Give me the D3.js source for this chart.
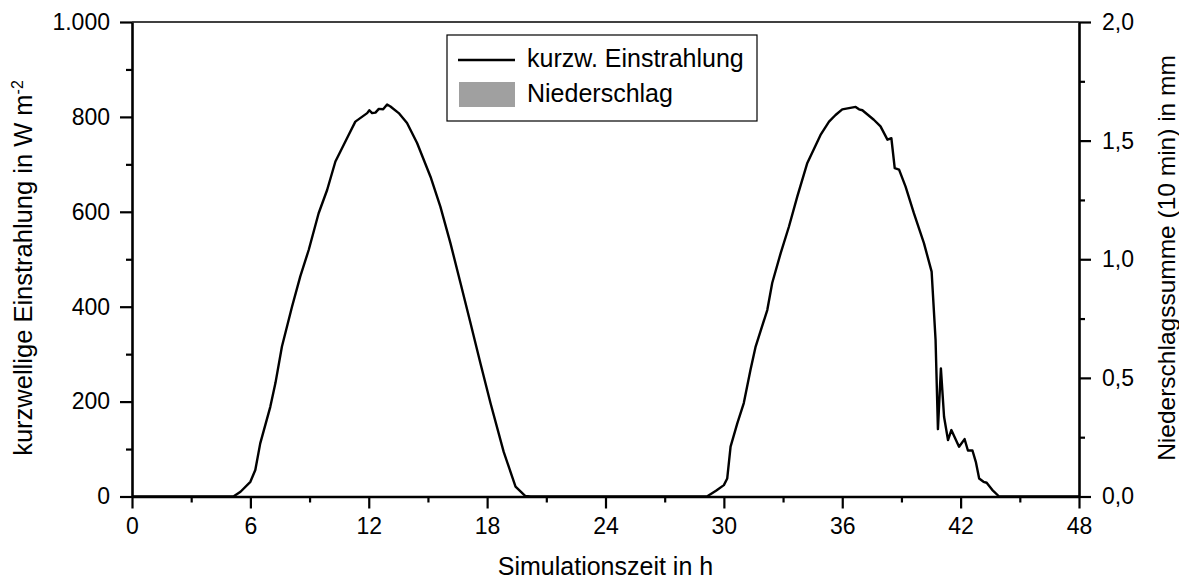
<!DOCTYPE html>
<html><head><meta charset="utf-8">
<script src="https://d3js.org/d3.v7.min.js"></script>
<style>
body{margin:0;background:#fff}
svg text{font-family:"Liberation Sans",Arial,sans-serif;fill:#000}
</style></head><body>
<svg id="chart" width="1179" height="581"></svg>
<script>
// Simulation time (h) and short-wave irradiance (W m-2)
const hours = [0,5.14,5.5,6.0,6.25,6.5,7.01,7.27,7.6,8.11,8.53,8.96,9.46,9.89,10.31,10.98,11.32,11.92,12.03,12.17,12.34,12.51,12.73,12.93,13.1,13.52,13.94,14.45,15.13,15.63,16.14,16.65,17.16,17.66,18.17,18.84,19.44,19.94,20.2,
  29.14,29.6,30.0,30.17,30.34,30.68,31.01,31.35,31.61,32.2,32.45,32.88,33.3,33.72,34.23,34.9,35.33,35.66,36.0,36.68,36.85,37.02,37.6,37.94,38.29,38.49,38.66,38.88,39.21,39.63,40.14,40.53,40.73,40.85,41.0,41.16,41.36,41.53,41.92,42.2,42.37,42.6,42.77,42.94,43.16,43.32,43.6,43.95,48];
const radiation = [0,0,10,31,56,112,189,239,316,400,464,520,597,646,706,762,790,808,814,808,809,817,816,826,822,808,787,745,674,611,534,450,365,281,197,94,21,1,0,
  0,12,24,38,105,154,197,267,316,393,450,513,569,632,703,762,790,804,816,821,816,814,794,780,752,755,692,689,653,597,534,474,330,142,270,168,119,140,105,121,97,97,73,38,31,29,14,0,0];
// Precipitation sum (10 min) in mm — no precipitation visible in the period
const precipHours = [];
const precipValues = [];

const xTicks = [0,6,12,18,24,30,36,42,48];
const xMinorTicks = [3,9,15,21,27,33,39,45];
const yLeftTicks = [0,200,400,600,800,1000];
const yLeftMinor = [100,300,500,700,900];
const yRightTicks = [0,0.5,1.0,1.5,2.0];
const yRightMinor = [0.25,0.75,1.25,1.75];
const legendLabels = ["kurzw. Einstrahlung","Niederschlag"];

const de = d3.formatLocale({decimal:",",thousands:".",grouping:[3],currency:["","€"]});
const fmtLeft = de.format(",d");
const fmtRight = de.format(".1f");

const svg = d3.select("#chart");
const L = 132, R = 1079, T = 22, B = 496.5;

const x = d3.scaleLinear().domain([0,48]).range([L,R]);
const yL = d3.scaleLinear().domain([0,1000]).range([B,T]);
const yR = d3.scaleLinear().domain([0,2]).range([B,T]);

// precipitation bars (none)
const bw = x(1/6) - x(0);
svg.append("g").selectAll("rect").data(precipHours.map((h,i)=>[h,precipValues[i]])).join("rect")
  .attr("x",d=>x(d[0])).attr("width",bw).attr("y",d=>yR(d[1])).attr("height",d=>B-yR(d[1]))
  .attr("fill","#a0a0a0");

// top frame line
svg.append("line").attr("x1",L).attr("x2",R).attr("y1",T).attr("y2",T)
  .attr("stroke","#000").attr("stroke-width",1.3);

function styleAxis(g, fs){
  g.select(".domain").attr("stroke","#000").attr("stroke-width",2.6);
  g.selectAll(".tick line").attr("stroke","#000").attr("stroke-width",2.2);
  g.selectAll(".tick text").attr("font-size",fs).attr("font-family","Liberation Sans, Arial, sans-serif");
}

// minor ticks
svg.append("g").attr("transform",`translate(0,${B})`)
  .call(d3.axisBottom(x).tickValues(xMinorTicks).tickSize(6).tickSizeOuter(0).tickFormat(""))
  .call(g=>{g.select(".domain").remove();g.selectAll(".tick line").attr("stroke","#000").attr("stroke-width",2.2);});
svg.append("g").attr("transform",`translate(${L},0)`)
  .call(d3.axisLeft(yL).tickValues(yLeftMinor).tickSize(6).tickSizeOuter(0).tickFormat(""))
  .call(g=>{g.select(".domain").remove();g.selectAll(".tick line").attr("stroke","#000").attr("stroke-width",2.2);});
svg.append("g").attr("transform",`translate(${R},0)`)
  .call(d3.axisRight(yR).tickValues(yRightMinor).tickSize(6).tickSizeOuter(0).tickFormat(""))
  .call(g=>{g.select(".domain").remove();g.selectAll(".tick line").attr("stroke","#000").attr("stroke-width",2.2);});

// major axes
svg.append("g").attr("transform",`translate(0,${B})`)
  .call(d3.axisBottom(x).tickValues(xTicks).tickSize(12).tickSizeOuter(0).tickPadding(9).tickFormat(d3.format("d")))
  .call(g=>styleAxis(g,23));
svg.append("g").attr("transform",`translate(${L},0)`)
  .call(d3.axisLeft(yL).tickValues(yLeftTicks).tickSize(12).tickSizeOuter(0).tickPadding(10).tickFormat(fmtLeft))
  .call(g=>styleAxis(g,23));
svg.append("g").attr("transform",`translate(${R},0)`)
  .call(d3.axisRight(yR).tickValues(yRightTicks).tickSize(12).tickSizeOuter(0).tickPadding(11).tickFormat(fmtRight))
  .call(g=>styleAxis(g,23));

// radiation line
const line = d3.line().x(d=>x(d[0])).y(d=>yL(d[1]));
svg.append("path").datum(hours.map((h,i)=>[h,radiation[i]]))
  .attr("d",line).attr("fill","none").attr("stroke","#000").attr("stroke-width",2.4)
  .attr("stroke-linejoin","round");

// axis titles
svg.append("text").attr("x",(L+R)/2).attr("y",575).attr("text-anchor","middle")
  .attr("font-size",25).text("Simulationszeit in h");
const lt = svg.append("text").attr("transform",`translate(32,268) rotate(-90)`)
  .attr("text-anchor","middle").attr("font-size",25.5);
lt.append("tspan").text("kurzwellige Einstrahlung in W m");
lt.append("tspan").attr("dy",-9).attr("font-size",16).text("-2");
svg.append("text").attr("transform",`translate(1175,258) rotate(-90)`)
  .attr("text-anchor","middle").attr("font-size",24.5).text("Niederschlagssumme (10 min) in mm");

// legend
const lg = svg.append("g");
lg.append("rect").attr("x",447).attr("y",35).attr("width",310).attr("height",86)
  .attr("fill","#fff").attr("stroke","#000").attr("stroke-width",1.2);
lg.append("line").attr("x1",458).attr("x2",515).attr("y1",60).attr("y2",60)
  .attr("stroke","#000").attr("stroke-width",2.4);
lg.append("rect").attr("x",459).attr("y",82).attr("width",56).attr("height",25).attr("fill","#a0a0a0");
lg.selectAll("text.lab").data(legendLabels).join("text").attr("class","lab")
  .attr("x",527).attr("y",(d,i)=>67+i*35).attr("font-size",25).text(d=>d);
</script></body></html>
